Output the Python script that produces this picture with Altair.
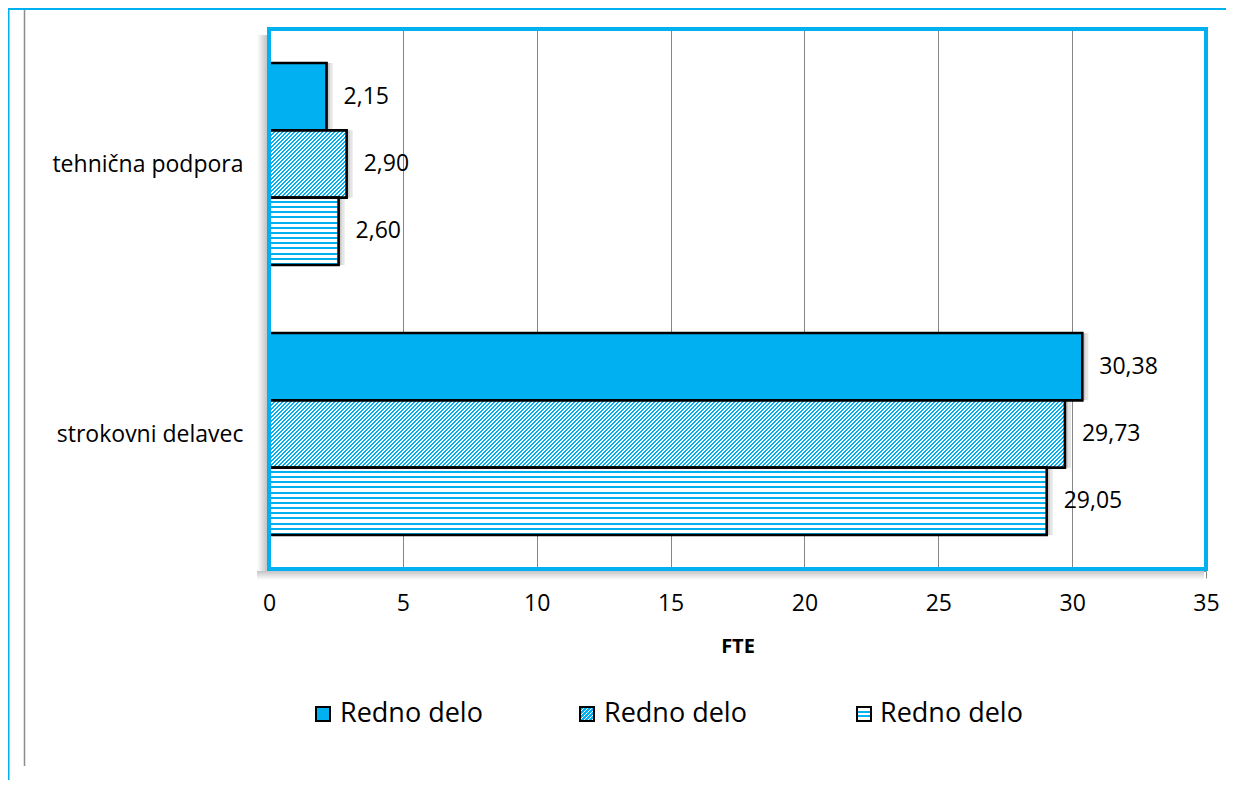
import math
import altair as alt
import pandas as pd

# ---------------- data ----------------
categories = ["tehnična podpora", "strokovni delavec"]
series_keys = ["s1", "s2", "s3"]
series_labels = ["Redno delo", "Redno delo", "Redno delo"]
values_s1 = [2.15, 30.38]
values_s2 = [2.90, 29.73]
values_s3 = [2.60, 29.05]
x_ticks = [0, 5, 10, 15, 20, 25, 30, 35]
x_title = "FTE"

rows = []
for key, vals in zip(series_keys, [values_s1, values_s2, values_s3]):
    for cat, v in zip(categories, vals):
        rows.append({"category": cat, "series": key, "value": v})
df = pd.DataFrame(rows)
df["label"] = df["value"].map(lambda v: f"{v:.2f}".replace(".", ","))

# ---------------- style ----------------
W, H = 937, 540
BLUE = "#00B0F0"
GRAY = "#868686"
FONT = "Open Sans"
XMAX = 35
PAD_IN, PAD_OUT = 0.252, 0.126
step = H / (len(categories) - PAD_IN + 2 * PAD_OUT)
bar_h = step * (1 - PAD_IN) / 3
px_per_unit = W / XMAX


def stripes_h(n=13, frac=0.38):
    stops = []
    for k in range(n):
        a, b, c = k / n, (k + 1 - frac) / n, (k + 1) / n
        stops += [{"offset": a, "color": "#ffffff"}, {"offset": b, "color": "#ffffff"},
                  {"offset": b, "color": BLUE}, {"offset": c, "color": BLUE}]
    return {"gradient": "linear", "x1": 0, "y1": 0, "x2": 0, "y2": 1, "stops": stops}


def hatch(w, h, p=4.0, frac=0.55):
    s = (w + h) * w / (w * w + h * h)
    L = w + h
    n = int(math.ceil(L / p))
    stops = []
    for k in range(n):
        a = min(k * p / L, 1)
        b = min((k + 1 - frac) * p / L, 1)
        c = min((k + 1) * p / L, 1)
        stops += [{"offset": a, "color": "#ffffff"}, {"offset": b, "color": "#ffffff"},
                  {"offset": b, "color": BLUE}, {"offset": c, "color": BLUE}]
    return {"gradient": "linear", "x1": 0, "y1": 0, "x2": s, "y2": s * h / w, "stops": stops}


def legend_stripes():
    stops = []
    for a, b in [(0.28, 0.42), (0.58, 0.72)]:
        stops += [{"offset": a, "color": "#ffffff"}, {"offset": a, "color": BLUE},
                  {"offset": b, "color": BLUE}, {"offset": b, "color": "#ffffff"}]
    return {"gradient": "linear", "x1": 0, "y1": 0, "x2": 0, "y2": 1,
            "stops": [{"offset": 0, "color": "#ffffff"}] + stops + [{"offset": 1, "color": "#ffffff"}]}


y_enc = alt.Y("category:N", sort=categories,
              scale=alt.Scale(paddingInner=PAD_IN, paddingOuter=PAD_OUT),
              axis=alt.Axis(title=None, tickBand="extent", domain=True, domainColor=GRAY,
                            offset=2, ticks=True, tickSize=8, tickColor=GRAY,
                            labelFont=FONT, labelFontSize=23, labelColor="#000000",
                            labelPadding=16, labelLimit=400, grid=False))
yoff_enc = alt.YOffset("series:N", sort=series_keys,
                       scale=alt.Scale(domain=series_keys, paddingInner=0, paddingOuter=0))
x_enc = alt.X("value:Q",
              scale=alt.Scale(domain=[0, XMAX], nice=False, zero=True),
              axis=alt.Axis(values=x_ticks, grid=True, gridColor=GRAY, gridWidth=1,
                            domain=True, domainColor=GRAY, offset=2,
                            tickColor=GRAY, tickSize=7, labelFlush=False,
                            labelFont=FONT, labelFontSize=23, labelColor="#000000",
                            labelPadding=14, title=x_title, titleFont=FONT,
                            titleFontSize=20, titleFontWeight="bold", titleColor="#000000",
                            titlePadding=21))

base = alt.Chart(df)
one = alt.Chart(pd.DataFrame({"d": [0]}))

layers = []

# plot-area shadow (left and bottom)
layers.append(one.mark_rect(fill={"gradient": "linear", "x1": 0, "y1": 0, "x2": 1, "y2": 0,
                                  "stops": [{"offset": 0, "color": "#ffffff"},
                                            {"offset": 1, "color": "#c4c4c4"}]}).encode(
    x=alt.value(-12), x2=alt.value(-2), y=alt.value(6), y2=alt.value(H + 2)))
layers.append(one.mark_rect(fill={"gradient": "linear", "x1": 0, "y1": 0, "x2": 0, "y2": 1,
                                  "stops": [{"offset": 0, "color": "#c4c4c4"},
                                            {"offset": 1, "color": "#ffffff"}]}).encode(
    x=alt.value(-12), x2=alt.value(W - 2), y=alt.value(H + 2), y2=alt.value(H + 11)))

# bar shadows
layers.append(base.mark_bar(color="#000000", opacity=0.10, xOffset=6).encode(
    y=y_enc, yOffset=yoff_enc, x=x_enc))
layers.append(base.mark_bar(color="#000000", opacity=0.12, xOffset=3).encode(
    y=y_enc, yOffset=yoff_enc, x=x_enc))

bar_style = dict(stroke="#000000", strokeWidth=2.6)

# series 1 : dotted (solid blue)
layers.append(base.transform_filter(alt.datum.series == series_keys[0]).mark_bar(
    fill=BLUE, **bar_style).encode(y=y_enc, yOffset=yoff_enc, x=x_enc))
# series 2 : diagonal hatch, gradient per bar
for cat, v in zip(categories, values_s2):
    layers.append(base.transform_filter(
        (alt.datum.series == series_keys[1]) & (alt.datum.category == cat)).mark_bar(
        fill=hatch(v * px_per_unit, bar_h), **bar_style).encode(y=y_enc, yOffset=yoff_enc, x=x_enc))
# series 3 : horizontal stripes
layers.append(base.transform_filter(alt.datum.series == series_keys[2]).mark_bar(
    fill=stripes_h(), **bar_style).encode(y=y_enc, yOffset=yoff_enc, x=x_enc))

# value labels
layers.append(base.mark_text(align="left", baseline="middle", dx=17, font=FONT,
                             fontSize=23, color="#000000").encode(
    y=y_enc, yOffset=yoff_enc, x=x_enc, text="label:N"))

# plot frame
layers.append(one.mark_rect(fill="transparent", stroke=BLUE, strokeWidth=4).encode(
    x=alt.value(0), x2=alt.value(W), y=alt.value(0), y2=alt.value(H)))

# page decorations
layers.append(one.mark_rect(fill=BLUE).encode(
    x=alt.value(-264), x2=alt.value(W + 60), y=alt.value(-32), y2=alt.value(-19)))
layers.append(one.mark_rect(fill=BLUE).encode(
    x=alt.value(-264), x2=alt.value(-259.5), y=alt.value(-32), y2=alt.value(H + 220)))
layers.append(one.mark_rule(color="#8c8c8c", strokeWidth=1.5).encode(
    x=alt.value(-244.5), y=alt.value(-19), y2=alt.value(737)))

# manual legend
leg_fills = [BLUE, hatch(14, 14, p=4.0), legend_stripes()]
leg_sym_x = [47, 311, 588]
leg_txt_x = [71, 335, 611]
for i, lab in enumerate(series_labels):
    ldf = alt.Chart(pd.DataFrame({"label": [lab]}))
    layers.append(ldf.mark_rect(fill=leg_fills[i], stroke="#000000", strokeWidth=2).encode(
        x=alt.value(leg_sym_x[i]), x2=alt.value(leg_sym_x[i] + 14),
        y=alt.value(678), y2=alt.value(692)))
    layers.append(ldf.mark_text(align="left", baseline="middle", font=FONT, fontSize=27,
                                color="#000000").encode(
        x=alt.value(leg_txt_x[i]), y=alt.value(685), text="label:N"))

chart = alt.layer(*layers).properties(
    width=W, height=H,
    padding={"left": 261, "top": 21, "right": 20, "bottom": 211},
    autosize=alt.AutoSizeParams(type="none"),
    background="#ffffff",
).configure_view(stroke="transparent")

chart.save("out.html", embed_options={"renderer": "svg", "actions": False})
